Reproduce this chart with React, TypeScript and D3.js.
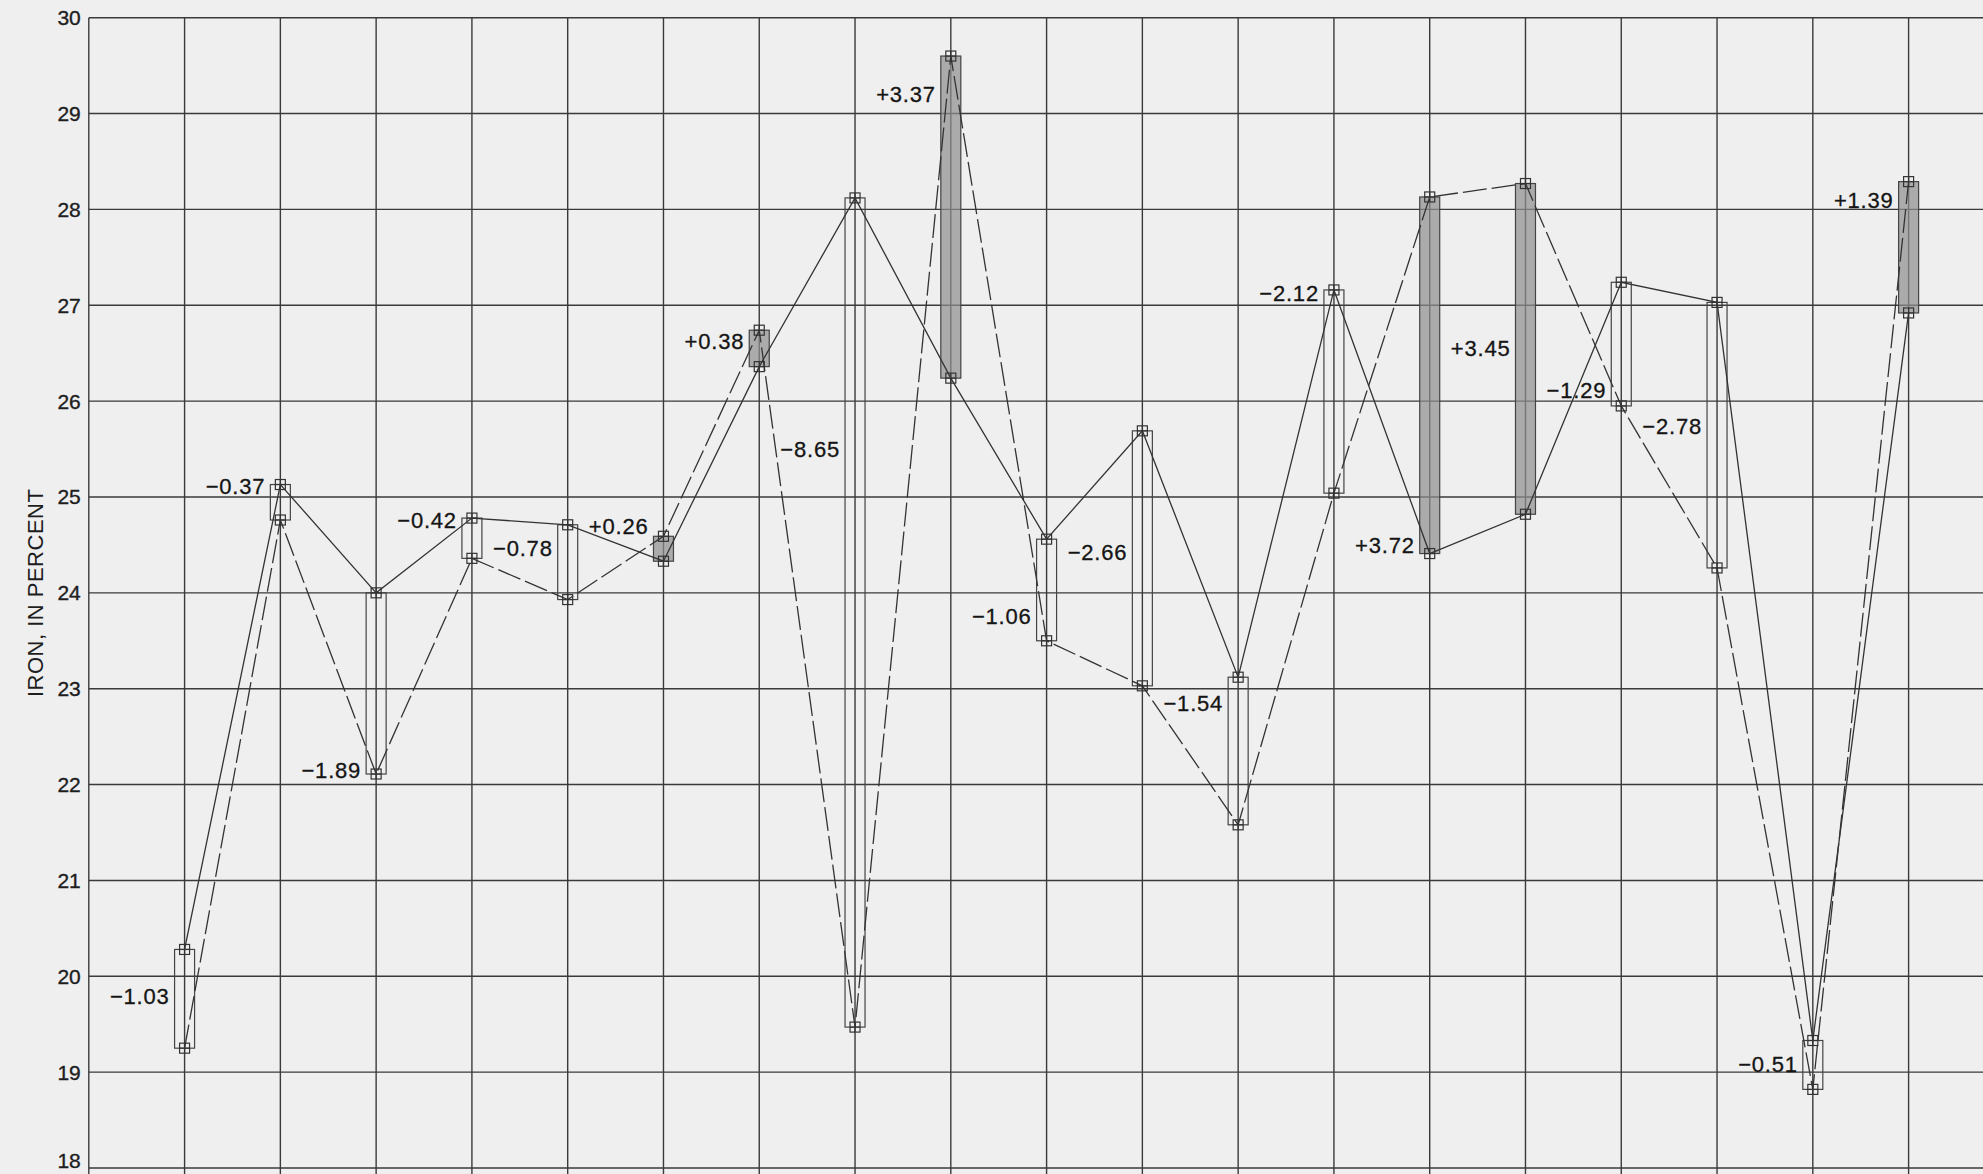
import * as d3 from "d3";

const WIDTH = 1983;
const HEIGHT = 1174;

// sample numbers along the section (one per vertical gridline)
const samples = d3.range(1, 20);

// iron, in percent — solid line
const solidIron = [
  20.28, 25.13, 24.0, 24.78, 24.71, 24.33, 26.36, 28.12, 26.24, 24.56,
  25.69, 23.12, 27.16, 24.41, 24.82, 27.24, 27.03, 19.33, 26.92,
];

// iron, in percent — dashed line
const dashedIron = [
  19.25, 24.76, 22.11, 24.36, 23.93, 24.59, 26.74, 19.47, 29.6, 23.5,
  23.03, 21.58, 25.04, 28.13, 28.27, 25.95, 24.26, 18.82, 28.29,
];

// difference annotations and the value each one sits beside
const diffLabels = [
  "\u22121.03", "\u22120.37", "\u22121.89", "\u22120.42", "\u22120.78",
  "+0.26", "+0.38", "\u22128.65", "+3.37", "\u22121.06",
  "\u22122.66", "\u22121.54", "\u22122.12", "+3.72", "+3.45",
  "\u22121.29", "\u22122.78", "\u22120.51", "+1.39",
];
const labelAt = [
  19.79, 25.11, 22.15, 24.76, 24.47, 24.7, 26.63, 25.5, 29.2, 23.76,
  24.43, 22.85, 27.13, 24.5, 26.55, 26.12, 25.74, 19.08, 28.1,
];

const yTicks = d3.range(18, 31);
const xGridLines = d3.range(0, 21);

const INK = "#333";
const FONT = "'Liberation Sans', Arial, Helvetica, sans-serif";

const Marker = ({ cx, cy }: { cx: number; cy: number }) => {
  const s = 5;
  return (
    <g stroke={INK} strokeWidth={1.2} fill="none">
      <rect x={cx - s} y={cy - s} width={s * 2} height={s * 2} />
      <line x1={cx - s} x2={cx + s} y1={cy} y2={cy} />
      <line x1={cx} x2={cx} y1={cy - s} y2={cy + s} />
    </g>
  );
};

export default function App() {
  const x = d3.scaleLinear().domain([0, 19]).range([88.8, 1908.6]);
  const y = d3.scaleLinear().domain([18, 30]).range([1168, 17.7]);

  const line = d3
    .line<number>()
    .x((_, i) => x(samples[i]))
    .y((d) => y(d));

  const boxW = 20;

  return (
    <div style={{ position: "absolute", left: 0, top: 0 }}>
      <svg
        width={WIDTH}
        height={HEIGHT}
        style={{ display: "block", background: "#efefef" }}
        fontFamily={FONT}
      >
        {/* grid */}
        <g stroke="#3a3a3a" strokeWidth={1.4}>
          {yTicks.map((t) => (
            <line key={"h" + t} x1={x(0)} x2={WIDTH} y1={y(t)} y2={y(t)} />
          ))}
          {xGridLines.map((i) => (
            <line key={"v" + i} x1={x(i)} x2={x(i)} y1={y(30)} y2={HEIGHT} />
          ))}
        </g>

        {/* y tick labels (bottom one kept inside the page edge) */}
        <g fontSize={21} fill="#1e1e1e" stroke="#1e1e1e" strokeWidth={0.35} textAnchor="end">
          {yTicks.map((t) => (
            <text
              key={"t" + t}
              x={x(0) - 8}
              y={Math.min(y(t) + 7.5, HEIGHT - 6)}
            >
              {t}
            </text>
          ))}
        </g>

        {/* axis title */}
        <text
          transform={`translate(43, ${(y(18) + y(30)) / 2}) rotate(-90)`}
          textAnchor="middle"
          fontSize={22}
          letterSpacing={0.5}
          fill="#1e1e1e"
        >
          IRON, IN PERCENT
        </text>

        {/* range boxes between the two determinations */}
        <g>
          {samples.map((s, i) => {
            const top = Math.max(solidIron[i], dashedIron[i]);
            const bottom = Math.min(solidIron[i], dashedIron[i]);
            const positive = dashedIron[i] > solidIron[i];
            return (
              <rect
                key={"b" + s}
                x={x(s) - boxW / 2}
                y={y(top)}
                width={boxW}
                height={y(bottom) - y(top)}
                fill={positive ? "#8f8f8f" : "none"}
                fillOpacity={positive ? 0.7 : 0}
                stroke="#444"
                strokeWidth={1.2}
              />
            );
          })}
        </g>

        {/* the two series */}
        <path d={line(solidIron) ?? ""} fill="none" stroke={INK} strokeWidth={1.3} />
        <path
          d={line(dashedIron) ?? ""}
          fill="none"
          stroke={INK}
          strokeWidth={1.3}
          strokeDasharray="24 5"
        />

        {/* point markers */}
        {samples.map((s, i) => (
          <g key={"m" + s}>
            <Marker cx={x(s)} cy={y(solidIron[i])} />
            <Marker cx={x(s)} cy={y(dashedIron[i])} />
          </g>
        ))}

        {/* difference labels */}
        <g fontSize={22} fill="#151515" stroke="#151515" strokeWidth={0.3} textAnchor="end">
          {samples.map((s, i) => (
            <text
              key={"l" + s}
              x={x(s) - boxW / 2 - 5}
              y={y(labelAt[i])}
              dy="0.36em"
              letterSpacing={0.8}
            >
              {diffLabels[i]}
            </text>
          ))}
        </g>
      </svg>
    </div>
  );
}
